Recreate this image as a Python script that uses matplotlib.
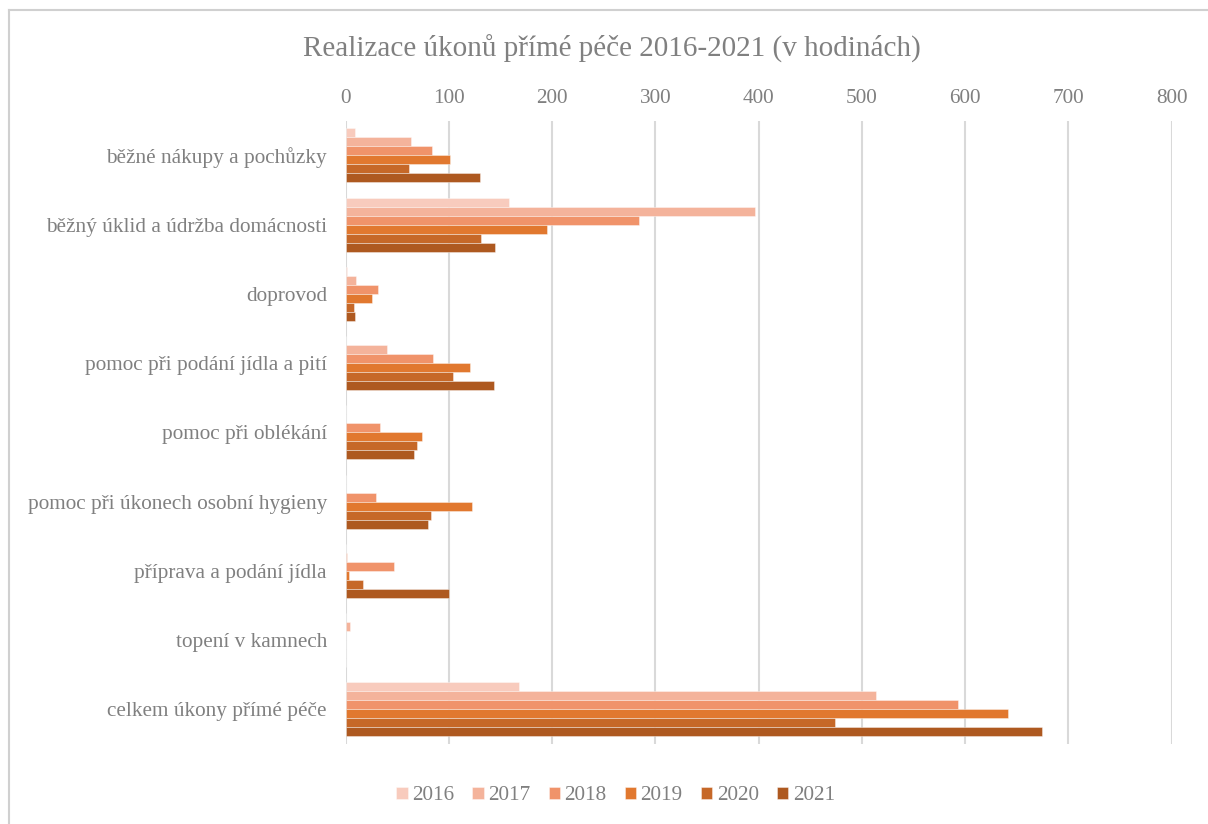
import matplotlib
matplotlib.use("Agg")
import matplotlib.pyplot as plt
import numpy as np

categories = [
    "běžné nákupy a pochůzky",
    "běžný úklid a údržba domácnosti",
    "doprovod",
    "pomoc při podání jídla a pití",
    "pomoc při oblékání",
    "pomoc při úkonech osobní hygieny",
    "příprava a podání jídla",
    "topení v kamnech",
    "celkem úkony přímé péče",
]
years = ["2016", "2017", "2018", "2019", "2020", "2021"]
v2016 = [9, 158, 1, 0, 0, 0, 0, 0, 168]
v2017 = [63, 396, 10, 40, 0, 0, 1, 4, 514]
v2018 = [84, 284, 31, 85, 33, 29, 47, 0, 593]
v2019 = [101, 195, 25, 120, 74, 122, 3, 0, 641]
v2020 = [61, 131, 8, 104, 69, 83, 17, 0, 474]
v2021 = [130, 145, 9, 144, 66, 80, 100, 0, 674]
series = [v2016, v2017, v2018, v2019, v2020, v2021]
colors = ["#F8CBBD", "#F4B39B", "#F0936A", "#E1782F", "#C66828", "#AE5920"]
xticks = [0, 100, 200, 300, 400, 500, 600, 700, 800]

plt.rcParams['font.family'] = ['Liberation Serif', 'DejaVu Serif']
txt = "#808080"

fig = plt.figure(figsize=(12.08, 8.24), dpi=100)
ax = fig.add_axes([345.7 / 1208, 1 - 744 / 824, 826 / 1208, 623.3 / 824])

y = np.arange(len(categories))
h = 0.13
for j, (vals, c, yr) in enumerate(zip(series, colors, years)):
    ax.barh(y + (j - 2.5) * h, vals, height=h, color=c, label=yr,
            edgecolor=(1, 1, 1, 0.45), linewidth=0.6, zorder=3)

ax.set_xlim(0, 800)
ax.set_ylim(len(categories) - 0.5, -0.5)
ax.set_xticks(xticks)
ax.set_xticklabels([str(t) for t in xticks])
ax.set_yticks(y)
ax.set_yticklabels(categories)
ax.xaxis.tick_top()
ax.tick_params(axis='x', length=0, pad=9, labelsize=15.3, labelcolor=txt)
ax.tick_params(axis='y', length=0, pad=13.5, labelsize=15.3, labelcolor=txt)
ax.grid(axis='x', color="#D9D9D9", linewidth=1.5, zorder=0)
for s in ax.spines.values():
    s.set_visible(False)

fig.text(0.5066, 1 - 48.5 / 824, "Realizace úkonů přímé péče 2016-2021 (v hodinách)",
         ha='center', va='center', fontsize=21, color=txt)

leg = fig.legend(loc='center', bbox_to_anchor=(0.5095, 1 - 796 / 824), ncol=6,
                 frameon=False, fontsize=15.3, handlelength=0.55, handleheight=0.55,
                 handletextpad=0.2, columnspacing=0.85, labelcolor=txt)

# outer border lines (chart frame)
fig.add_artist(plt.Line2D([9 / 1208, 9 / 1208], [0, 1 - 10 / 824],
                          transform=fig.transFigure, color="#D0D0D0", linewidth=1.5))
fig.add_artist(plt.Line2D([9 / 1208, 1], [1 - 10 / 824, 1 - 10 / 824],
                          transform=fig.transFigure, color="#D0D0D0", linewidth=1.5))

fig.savefig("out.png", dpi=100)
